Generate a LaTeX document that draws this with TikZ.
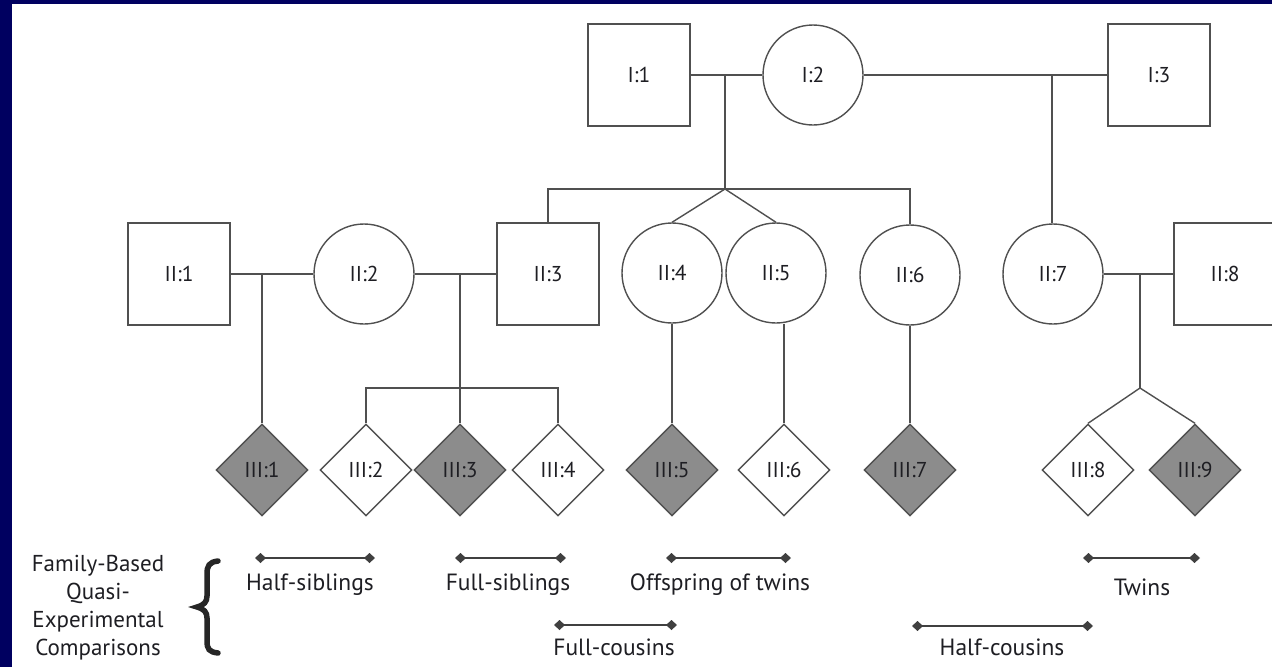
\documentclass[tikz,border=0pt]{standalone}
\usepackage{fontspec}
\setmainfont{PT Sans}
\usetikzlibrary{shapes.geometric,arrows.meta}
\definecolor{navy}{RGB}{0,0,96}
\definecolor{lineg}{RGB}{80,80,80}
\definecolor{affg}{RGB}{140,140,140}
\definecolor{txt}{RGB}{30,30,35}
\tikzset{
  ped/.style={draw=lineg, line width=1.4pt, text=txt, font=\fontsize{21.5}{21.5}\selectfont, inner sep=0pt},
  male/.style={ped, rectangle, minimum width=102pt, minimum height=102pt, fill=white},
  female/.style={ped, circle, minimum size=100pt, fill=white},
  child/.style={ped, diamond, minimum width=92pt, minimum height=92pt, aspect=1, fill=white},
  affected/.style={fill=affg},
  link/.style={draw=lineg, line width=1.4pt},
  cmp/.style={draw=black!75, line width=2.2pt, {Diamond[length=11pt,width=10pt]}-{Diamond[length=11pt,width=10pt]}, shorten <=-5pt, shorten >=-5pt},
  lbl/.style={text=txt, font=\fontsize{23.5}{23.5}\selectfont, inner sep=0pt},
}
\begin{document}
\begin{tikzpicture}[x=1pt,y=-1pt]
\useasboundingbox (0,0) rectangle (1272,667);
\clip (0,0) rectangle (1272,667);
\fill[white] (0,0) rectangle (1272,667);
\fill[navy] (0,0) rectangle (12,667);
\fill[navy] (0,0) rectangle (1272,4);

% Generation I
\node[male]   (I1) at (639,75) {I:1};
\node[female] (I2) at (813,75) {I:2};
\node[male]   (I3) at (1159,75) {I:3};

% Generation II
\node[male]   (II1) at (179,274) {II:1};
\node[female] (II2) at (364,274) {II:2};
\node[male]   (II3) at (548,274) {II:3};
\node[female] (II4) at (672,273) {II:4};
\node[female] (II5) at (776,273) {II:5};
\node[female] (II6) at (910,275) {II:6};
\node[female] (II7) at (1053,274) {II:7};
\node[male]   (II8) at (1225,274) {II:8};

% Generation III
\node[child,affected] (III1) at (262,470) {III:1};
\node[child]          (III2) at (366,470) {III:2};
\node[child,affected] (III3) at (460,470) {III:3};
\node[child]          (III4) at (558,470) {III:4};
\node[child,affected] (III5) at (672,470) {III:5};
\node[child]          (III6) at (784,470) {III:6};
\node[child,affected] (III7) at (910,470) {III:7};
\node[child]          (III8) at (1088,470) {III:8};
\node[child,affected] (III9) at (1195,470) {III:9};

% Connectors generation I
\coordinate (m1) at (725,75);
\coordinate (s1) at (725,189);
\coordinate (m2) at (1052,75);
\draw[link] (I1.east) -- (I2.west);
\draw[link] (I2.east) -- (I3.west);
\draw[link] (m1) -- (s1);
\draw[link] (II3.north) -- (II3.north |- s1) -- (II6.north |- s1) -- (II6.north);
\draw[link] (s1) -- (II4.north);
\draw[link] (s1) -- (II5.north);
\draw[link] (m2) -- (m2 |- II7.north);

% Connectors generation II
\coordinate (m3) at (262,274);
\coordinate (m4) at (460,274);
\coordinate (s2) at (460,388);
\coordinate (m5) at (1140,274);
\coordinate (s3) at (1140,388);
\draw[link] (II1.east) -- (II2.west);
\draw[link] (II2.east) -- (II3.west);
\draw[link] (II7.east) -- (II8.west);
\draw[link] (m3) -- (III1.north);
\draw[link] (m4) -- (s2);
\draw[link] (III2.north) -- (III2.north |- s2) -- (III4.north |- s2) -- (III4.north);
\draw[link] (s2) -- (III3.north);
\draw[link] (II4.south) -- (III5.north);
\draw[link] (II5.south -| III6.north) -- (III6.north);
\draw[link] (II6.south) -- (III7.north);
\draw[link] (m5) -- (s3);
\draw[link] (s3) -- (III8.north);
\draw[link] (s3) -- (III9.north);

% Comparisons
\coordinate (hs1) at (260,558); \coordinate (hs2) at (370,558);
\coordinate (fs1) at (460,558); \coordinate (fs2) at (561,558);
\coordinate (ot1) at (671,558); \coordinate (ot2) at (786,558);
\coordinate (tw1) at (1088,558); \coordinate (tw2) at (1195,558);
\coordinate (fc1) at (559,625); \coordinate (fc2) at (672,625);
\coordinate (hc1) at (917,626); \coordinate (hc2) at (1088,626);
\draw[cmp] (hs1) -- (hs2);
\draw[cmp] (fs1) -- (fs2);
\draw[cmp] (ot1) -- (ot2);
\draw[cmp] (tw1) -- (tw2);
\draw[cmp] (fc1) -- (fc2);
\draw[cmp] (hc1) -- (hc2);
\node[lbl] (Lhs) at (310,585) {Half-siblings};
\node[lbl] (Lfs) at (508,585) {Full-siblings};
\node[lbl] (Lot) at (720,585) {Offspring of twins};
\node[lbl] (Ltw) at (1142,587) {Twins};
\node[lbl] (Lfc) at (614,647) {Full-cousins};
\node[lbl] (Lhc) at (1002,647) {Half-cousins};

% Side label and brace
\node[lbl, align=center, font=\fontsize{23}{28}\selectfont] (fam) at (98,608) {Family-Based\\Quasi-\\Experimental\\Comparisons};
\draw[black!85, line width=5.5pt, line cap=round]
  (218,561) .. controls (209,562) and (207,566) .. (207,574)
  -- (207,596) .. controls (207,602) and (204,605) .. (197,607)
  .. controls (204,609) and (207,612) .. (207,618)
  -- (207,641) .. controls (207,649) and (209,652) .. (218,653);
\end{tikzpicture}
\end{document}
